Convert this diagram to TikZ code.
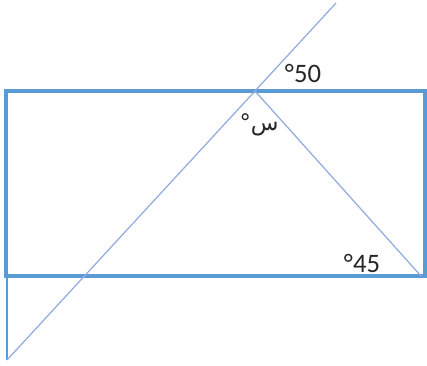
\documentclass[tikz,border=0pt]{standalone}
\usepackage{fontspec}
\setmainfont{Carlito}
\newfontfamily\arabicfont[Script=Arabic]{DejaVu Sans}
\TeXXeTstate=1
\definecolor{FrameBlue}{RGB}{91, 155, 213}
\definecolor{RayBlue}{RGB}{143, 170, 220}

\begin{document}
\begin{tikzpicture}[x=0.75pt, y=-0.75pt,
  frame/.style={draw=FrameBlue, line width=2.6pt},
  ray/.style={draw=RayBlue, line width=0.9pt},
  post/.style={draw=FrameBlue, line width=1pt},
  lab/.style={font=\fontsize{20}{22}\selectfont, text=black!85, inner sep=0pt}]
\useasboundingbox (0,0) rectangle (427,365);
\coordinate (tl) at (6,91);
\coordinate (br) at (425,276);
\coordinate (bl) at (7,276);
\coordinate (base) at (7,360);
\coordinate (apex) at (255,91);
\coordinate (top) at (336,3);
\coordinate (foot) at (421,276);
\draw[frame] (tl) rectangle (br);
\draw[post] (bl) -- (base);
\draw[ray] (base) -- (apex) -- (top);
\draw[ray] (apex) -- (foot);
\node[lab] (outer) at (303,73) {°50};
\node[lab] (inner) at (259,125) {\arabicfont\fontsize{17}{19}\selectfont\beginR س°\endR};
\node[lab] (corner) at (362,263) {°45};
\end{tikzpicture}
\end{document}
